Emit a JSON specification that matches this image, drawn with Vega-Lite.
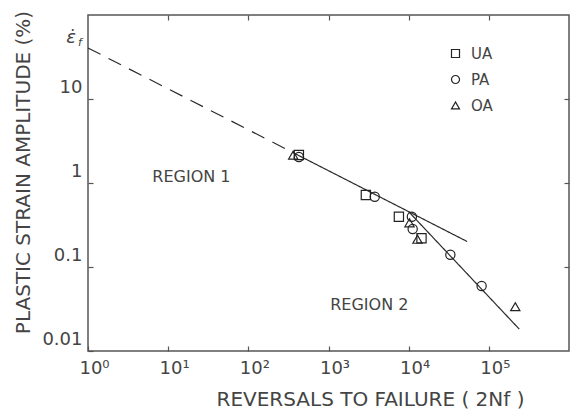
{
  "$schema": "https://vega.github.io/schema/vega-lite/v6.json",
  "width": 481,
  "height": 336,
  "autosize": "none",
  "padding": {"left": 88, "top": 15, "right": 1, "bottom": 60},
  "background": "white",
  "config": {
    "view": {"stroke": "#555", "strokeWidth": 1.5},
    "font": "DejaVu Sans"
  },
  "datasets": {
    "lines": [
      {"seg": "extrapolated", "n": 1, "e": 40.5},
      {"seg": "extrapolated", "n": 355, "e": 2.32},
      {"seg": "region1", "n": 355, "e": 2.32},
      {"seg": "region1", "n": 53700, "e": 0.201},
      {"seg": "region2", "n": 10000, "e": 0.456},
      {"seg": "region2", "n": 239900, "e": 0.0182}
    ],
    "points": [
      {"grp": "OA", "n": 363, "e": 2.15},
      {"grp": "UA", "n": 427, "e": 2.15},
      {"grp": "PA", "n": 427, "e": 2.04},
      {"grp": "UA", "n": 2924, "e": 0.72},
      {"grp": "PA", "n": 3776, "e": 0.687},
      {"grp": "UA", "n": 7551, "e": 0.397},
      {"grp": "PA", "n": 10965, "e": 0.397},
      {"grp": "OA", "n": 10233, "e": 0.336},
      {"grp": "PA", "n": 11220, "e": 0.283},
      {"grp": "OA", "n": 12882, "e": 0.214},
      {"grp": "UA", "n": 14454, "e": 0.22},
      {"grp": "PA", "n": 33113, "e": 0.14},
      {"grp": "PA", "n": 81283, "e": 0.0594},
      {"grp": "OA", "n": 213800, "e": 0.0337}
    ],
    "regions": [
      {"t": "REGION 1", "n": 19.5, "e": 1.18},
      {"t": "REGION 2", "n": 3230, "e": 0.0353}
    ],
    "intercept": [
      {"n": 1, "e": 40.5}
    ]
  },
  "resolve": {"axis": {"x": "independent", "y": "independent"}},
  "layer": [
    {
      "data": {"name": "lines"},
      "mark": {"type": "line", "color": "#2a2a2a", "strokeWidth": 1.2},
      "encoding": {
        "x": {
          "field": "n", "type": "quantitative",
          "scale": {"type": "log", "domain": [1, 1000000]},
          "axis": {
            "orient": "bottom",
            "values": [1, 10, 100, 1000, 10000, 100000],
            "labelExpr": "'10' + ['⁰','¹','²','³','⁴','⁵','⁶'][round(log(datum.value)/LN10)]",
            "labelFontSize": 18, "labelColor": "#444", "labelOffset": 6, "labelFlush": false,
            "labelPadding": 13, "tickSize": -5, "tickColor": "#555", "tickWidth": 1.2,
            "domain": false, "grid": false,
            "title": "REVERSALS TO FAILURE ( 2Nf )",
            "titleFontSize": 20, "titleFontWeight": "normal", "titleColor": "#444",
            "titleX": 282, "titleY": 48, "titleBaseline": "middle", "titleAlign": "center"
          }
        },
        "y": {
          "field": "e", "type": "quantitative",
          "scale": {"type": "log", "domain": [0.01, 100]},
          "axis": {
            "orient": "left",
            "values": [0.01, 0.1, 1, 10],
            "labelExpr": "datum.value == 10 ? '10' : datum.value == 1 ? '1' : datum.value < 0.05 ? '0.01' : '0.1'",
            "labelFontSize": 18, "labelColor": "#444", "labelOffset": -12, "labelPadding": 11,
            "tickSize": -5, "tickColor": "#555", "tickWidth": 1.2,
            "domain": false, "grid": false,
            "title": "PLASTIC STRAIN AMPLITUDE (%)",
            "titleFontSize": 20, "titleFontWeight": "normal", "titleColor": "#444",
            "titleX": -65, "titleY": 157, "titleAngle": 270, "titleAlign": "center", "titleBaseline": "middle"
          }
        },
        "detail": {"field": "seg"},
        "strokeDash": {
          "field": "seg", "type": "nominal",
          "scale": {"domain": ["extrapolated", "region1", "region2"], "range": [[14, 9], [1, 0], [1, 0]]},
          "legend": null
        }
      }
    },
    {
      "data": {"name": "points"},
      "mark": {"type": "point", "filled": false, "color": "#222", "strokeWidth": 1.2, "size": 85, "opacity": 1},
      "encoding": {
        "x": {
          "field": "n", "type": "quantitative",
          "axis": {
            "orient": "top", "values": [10, 100, 1000, 10000, 100000],
            "labels": false, "tickSize": -5, "tickColor": "#555", "tickWidth": 1.2,
            "domain": false, "grid": false, "title": null
          }
        },
        "y": {
          "field": "e", "type": "quantitative",
          "axis": {
            "orient": "right", "values": [0.1, 1, 10],
            "labels": false, "tickSize": -5, "tickColor": "#555", "tickWidth": 1.2,
            "domain": false, "grid": false, "title": null
          }
        },
        "shape": {
          "field": "grp", "type": "nominal",
          "scale": {"domain": ["UA", "PA", "OA"], "range": ["square", "circle", "triangle-up"]},
          "legend": {
            "orient": "none", "legendX": 360, "legendY": 31, "title": null,
            "labelFontSize": 15, "labelColor": "#444", "symbolSize": 64,
            "rowPadding": 10, "labelOffset": 8, "symbolStrokeWidth": 1.2,
            "symbolStrokeColor": "#222", "symbolFillColor": "transparent", "padding": 0
          }
        }
      }
    },
    {
      "data": {"name": "regions"},
      "mark": {"type": "text", "fontSize": 16, "color": "#444", "align": "center", "baseline": "middle"},
      "encoding": {
        "x": {"field": "n", "type": "quantitative", "axis": null},
        "y": {"field": "e", "type": "quantitative", "axis": null},
        "text": {"field": "t"}
      }
    },
    {
      "data": {"name": "intercept"},
      "mark": {"type": "text", "text": "ε̇", "fontSize": 18, "fontStyle": "italic", "color": "#444", "align": "center", "baseline": "middle", "dx": -17, "dy": -10},
      "encoding": {
        "x": {"field": "n", "type": "quantitative", "axis": null},
        "y": {"field": "e", "type": "quantitative", "axis": null}
      }
    },
    {
      "data": {"name": "intercept"},
      "mark": {"type": "text", "text": "f", "fontSize": 11, "fontStyle": "italic", "color": "#444", "align": "center", "baseline": "middle", "dx": -8, "dy": -5},
      "encoding": {
        "x": {"field": "n", "type": "quantitative", "axis": null},
        "y": {"field": "e", "type": "quantitative", "axis": null}
      }
    }
  ]
}
